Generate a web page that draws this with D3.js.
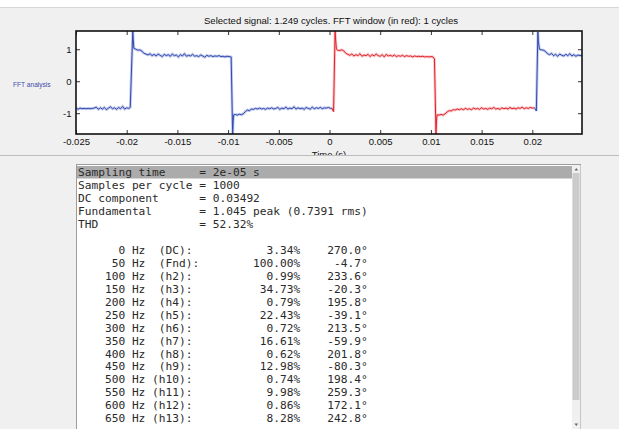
<!DOCTYPE html>
<html>
<head>
<meta charset="utf-8">
<script src="https://d3js.org/d3.v7.min.js"></script>
<style>
body { margin: 0; background: #fff; }
svg { display: block; }
.tick text { font-family: "Liberation Sans", Arial, sans-serif; font-size: 9.5px; fill: #111; }
.mono { font-family: "DejaVu Sans Mono", "Liberation Mono", monospace; font-size: 11.2px; fill: #2a2a2a; white-space: pre; }
</style>
</head>
<body>
<script>
// ---- data ----
var titleText = "Selected signal: 1.249 cycles. FFT window (in red): 1 cycles";
var xTicks = [-0.025, -0.02, -0.015, -0.01, -0.005, 0, 0.005, 0.01, 0.015, 0.02];
var yTicks = [-1, 0, 1];
var xLimits = [-0.025, 0.0249];
var yLimits = [-1.65, 1.57];

// signal before the FFT window (blue), [time s, value]
var blueStart = [
  [-0.0250,-0.83],[-0.0248,-0.88],[-0.0246,-0.84],[-0.0244,-0.86],[-0.0242,-0.85],[-0.0240,-0.86],
  [-0.0238,-0.85],[-0.0236,-0.86],[-0.0234,-0.85],[-0.0232,-0.84],[-0.0230,-0.81],[-0.0228,-0.88],
  [-0.0226,-0.83],[-0.0224,-0.87],[-0.0222,-0.82],[-0.0220,-0.89],[-0.0218,-0.84],[-0.0216,-0.80],
  [-0.0214,-0.86],[-0.0212,-0.83],[-0.0210,-0.88],[-0.0208,-0.82],[-0.0206,-0.86],[-0.0204,-0.79],
  [-0.0202,-0.87],[-0.0200,-0.83],[-0.0198,-0.85],[-0.01965,-0.82],
  [-0.0194,1.57],[-0.01935,1.30],[-0.0193,1.03],[-0.0191,1.00],[-0.0189,0.97],[-0.0187,0.98],
  [-0.0185,0.94],[-0.0183,0.87],[-0.0181,0.85],
  [-0.0179,0.82],[-0.0177,0.86],[-0.0175,0.80],[-0.0173,0.84],[-0.0171,0.79],[-0.0169,0.85],
  [-0.0167,0.81],[-0.0165,0.77],[-0.0163,0.84],[-0.0161,0.80],[-0.0159,0.83],[-0.0157,0.78],
  [-0.0155,0.85],[-0.0153,0.80],[-0.0151,0.82],[-0.0149,0.76],[-0.0147,0.83],[-0.0145,0.79],
  [-0.0143,0.86],[-0.0141,0.78],[-0.0139,0.81],[-0.0137,0.79],[-0.0135,0.84],[-0.0133,0.78],
  [-0.0131,0.80],[-0.0129,0.77],[-0.0127,0.82],[-0.0125,0.79],[-0.0123,0.75],[-0.0121,0.81],
  [-0.0119,0.78],[-0.0117,0.80],[-0.0115,0.77],[-0.0113,0.79],[-0.0111,0.78],[-0.0109,0.80],
  [-0.0107,0.77],[-0.0105,0.78],[-0.0103,0.76],[-0.0101,0.78],[-0.0099,0.77],[-0.0097,0.76],
  [-0.00955,-1.65],[-0.0095,-1.25],[-0.00945,-1.05],[-0.0093,-1.04],[-0.0091,-1.06],[-0.0089,-1.03],
  [-0.0087,-1.05],[-0.0085,-1.02],[-0.0083,-0.95],[-0.0081,-0.90],[-0.0079,-0.92],[-0.0077,-0.87],
  [-0.0075,-0.88],[-0.0073,-0.85],[-0.0071,-0.87],[-0.0069,-0.84],[-0.0067,-0.87],[-0.0065,-0.85],
  [-0.0063,-0.88],[-0.0061,-0.84],[-0.0059,-0.86],[-0.0057,-0.83],[-0.0055,-0.87],[-0.0053,-0.85],
  [-0.0051,-0.82],[-0.0049,-0.88],[-0.0047,-0.84],[-0.0045,-0.86],[-0.0043,-0.81],[-0.0041,-0.87],
  [-0.0039,-0.84],[-0.0037,-0.86],[-0.0035,-0.80],[-0.0033,-0.87],[-0.0031,-0.83],[-0.0029,-0.86],
  [-0.0027,-0.84],[-0.0025,-0.88],[-0.0023,-0.82],[-0.0021,-0.85],[-0.0019,-0.87],[-0.0017,-0.81],
  [-0.0015,-0.86],[-0.0013,-0.83],[-0.0011,-0.85],[-0.0009,-0.82],[-0.0007,-0.86],[-0.0005,-0.83],
  [-0.0003,-0.84],[-0.0001,-0.82],[0.0001,-0.85],[0.00023,-0.84]
];

// one cycle inside the FFT window (red)
var redWindow = [
  [0.00023,-0.84],[0.0004,-0.95],[0.00055,1.57],[0.0006,1.32],[0.00068,1.00],[0.0008,0.97],
  [0.0010,0.96],[0.0012,0.98],[0.0014,0.95],[0.0016,0.88],[0.0018,0.84],
  [0.0020,0.81],[0.0022,0.85],[0.0024,0.79],[0.0026,0.83],[0.0028,0.80],[0.0030,0.86],
  [0.0032,0.78],[0.0034,0.82],[0.0036,0.80],[0.0038,0.84],[0.0040,0.77],[0.0042,0.83],
  [0.0044,0.79],[0.0046,0.85],[0.0048,0.80],[0.0050,0.78],[0.0052,0.83],[0.0054,0.76],
  [0.0056,0.84],[0.0058,0.79],[0.0060,0.81],[0.0062,0.78],[0.0064,0.82],[0.0066,0.77],
  [0.0068,0.80],[0.0070,0.78],[0.0072,0.81],[0.0074,0.77],[0.0076,0.80],[0.0078,0.78],
  [0.0080,0.79],[0.0082,0.76],[0.0084,0.79],[0.0086,0.77],[0.0088,0.78],[0.0090,0.77],
  [0.0092,0.78],[0.0094,0.76],[0.0096,0.77],[0.0098,0.76],[0.0100,0.77],[0.0102,0.76],
  [0.01035,0.70],[0.0105,-1.65],[0.01055,-1.25],[0.0106,-1.05],[0.0108,-1.06],[0.0110,-1.04],
  [0.0112,-1.06],[0.0114,-1.02],[0.0116,-0.96],[0.0118,-0.92],[0.0120,-0.93],[0.0122,-0.89],
  [0.0124,-0.90],[0.0126,-0.87],[0.0128,-0.89],[0.0130,-0.86],[0.0132,-0.89],[0.0134,-0.85],
  [0.0136,-0.88],[0.0138,-0.86],[0.0140,-0.89],[0.0142,-0.84],[0.0144,-0.87],[0.0146,-0.85],
  [0.0148,-0.88],[0.0150,-0.83],[0.0152,-0.87],[0.0154,-0.85],[0.0156,-0.88],[0.0158,-0.84],
  [0.0160,-0.86],[0.0162,-0.82],[0.0164,-0.87],[0.0166,-0.85],[0.0168,-0.88],[0.0170,-0.83],
  [0.0172,-0.86],[0.0174,-0.84],[0.0176,-0.87],[0.0178,-0.82],[0.0180,-0.86],[0.0182,-0.84],
  [0.0184,-0.87],[0.0186,-0.83],[0.0188,-0.85],[0.0190,-0.81],[0.0192,-0.86],[0.0194,-0.83],
  [0.0196,-0.85],[0.0198,-0.82],[0.0200,-0.84],[0.0202,-0.83]
];

// signal after the FFT window (blue)
var blueEnd = [
  [0.0202,-0.83],[0.0203,-0.86],[0.0204,-0.93],[0.02055,1.54],[0.0206,1.25],[0.0207,1.00],
  [0.0209,0.98],[0.0211,0.97],[0.0213,0.93],[0.0215,0.86],[0.0217,0.83],[0.0219,0.87],
  [0.0221,0.80],[0.0223,0.84],[0.0225,0.78],[0.0227,0.85],[0.0229,0.81],[0.0231,0.79],
  [0.0233,0.84],[0.0235,0.80],[0.0237,0.86],[0.0239,0.79],[0.0241,0.83],[0.0243,0.78],
  [0.0245,0.82],[0.0247,0.80],[0.0249,0.81]
];

// FFT report
var headerLabels = ["Sampling time", "Samples per cycle", "DC component", "Fundamental", "THD"];
var headerValues = ["2e-05 s", "1000", "0.03492", "1.045 peak (0.7391 rms)", "52.32%"];
var harmonicFreqs = [0, 50, 100, 150, 200, 250, 300, 350, 400, 450, 500, 550, 600, 650];
var harmonicNames = ["DC", "Fnd", "h2", "h3", "h4", "h5", "h6", "h7", "h8", "h9", "h10", "h11", "h12", "h13"];
var harmonicMag = [3.34, 100.00, 0.99, 34.73, 0.79, 22.43, 0.72, 16.61, 0.62, 12.98, 0.74, 9.98, 0.86, 8.28];
var harmonicPhase = [270.0, -4.7, 233.6, -20.3, 195.8, -39.1, 213.5, -59.9, 201.8, -80.3, 198.4, 259.3, 172.1, 242.8];

// ---- layout ----
var W = 619, H = 429;
var plot = {left: 76, right: 582, top: 31, bottom: 134};

var svg = d3.select("body").append("svg")
    .attr("width", W)
    .attr("height", H);

svg.append("rect").attr("width", W).attr("height", H).attr("fill", "#fff");

// top panel
svg.append("rect")
    .attr("x", 0).attr("y", 7.5)
    .attr("width", W).attr("height", 148)
    .attr("fill", "#f0f0f0");
svg.append("line")
    .attr("x1", 0).attr("x2", W).attr("y1", 7.5).attr("y2", 7.5)
    .attr("stroke", "#d6d6d6");

svg.append("text")
    .attr("x", 331).attr("y", 24)
    .attr("text-anchor", "middle")
    .style("font-family", "Liberation Sans, Arial, sans-serif")
    .style("font-size", "9.6px")
    .attr("fill", "#111")
    .text(titleText);

svg.append("text")
    .attr("x", 13).attr("y", 86.5)
    .style("font-family", "Liberation Sans, Arial, sans-serif")
    .style("font-size", "6.6px")
    .attr("fill", "#3e4ca8")
    .text("FFT analysis");

var x = d3.scaleLinear().domain(xLimits).range([plot.left, plot.right]);
var y = d3.scaleLinear().domain(yLimits).range([plot.bottom, plot.top]);

svg.append("rect")
    .attr("x", plot.left).attr("y", plot.top)
    .attr("width", plot.right - plot.left).attr("height", plot.bottom - plot.top)
    .attr("fill", "#fff");

svg.append("clipPath").attr("id", "clip")
  .append("rect")
    .attr("x", plot.left).attr("y", plot.top)
    .attr("width", plot.right - plot.left).attr("height", plot.bottom - plot.top);

var line = d3.line()
    .x(function(d) { return x(d[0]); })
    .y(function(d) { return y(d[1]); });

var traces = [
  {data: blueStart, color: "#3349b2", halo: "#9aa6da"},
  {data: redWindow, color: "#e5202a", halo: "#f1a0a4"},
  {data: blueEnd, color: "#3349b2", halo: "#9aa6da"}
];

var g = svg.append("g").attr("clip-path", "url(#clip)");
traces.forEach(function(t) {
  g.append("path").datum(t.data)
      .attr("d", line)
      .attr("fill", "none")
      .attr("stroke", t.halo)
      .attr("stroke-width", 2.8)
      .attr("stroke-opacity", 0.6);
});
traces.forEach(function(t) {
  g.append("path").datum(t.data)
      .attr("d", line)
      .attr("fill", "none")
      .attr("stroke", t.color)
      .attr("stroke-width", 1)
      .attr("stroke-linejoin", "round");
});

// axes, ticks pointing inside
svg.append("g")
    .attr("transform", "translate(0," + plot.bottom + ")")
    .call(d3.axisBottom(x).tickValues(xTicks).tickSize(-4).tickSizeOuter(0).tickPadding(4.5)
      .tickFormat(function(d) { return String(+d.toFixed(3)); }));
svg.append("g")
    .attr("transform", "translate(0," + plot.top + ")")
    .call(d3.axisTop(x).tickValues(xTicks).tickSize(-4).tickSizeOuter(0).tickFormat(""));
svg.append("g")
    .attr("transform", "translate(" + plot.left + ",0)")
    .call(d3.axisLeft(y).tickValues(yTicks).tickSize(-4).tickSizeOuter(0).tickPadding(4.5)
      .tickFormat(function(d) { return String(d); }));
svg.append("g")
    .attr("transform", "translate(" + plot.right + ",0)")
    .call(d3.axisRight(y).tickValues(yTicks).tickSize(-4).tickSizeOuter(0).tickFormat(""));

svg.selectAll(".domain").attr("stroke", "none");
svg.selectAll(".tick line").attr("stroke", "#333");

svg.append("rect")
    .attr("x", plot.left).attr("y", plot.top)
    .attr("width", plot.right - plot.left).attr("height", plot.bottom - plot.top)
    .attr("fill", "none")
    .attr("stroke", "#111")
    .attr("stroke-width", 1.6);

svg.append("text")
    .attr("x", (plot.left + plot.right) / 2).attr("y", 158)
    .attr("text-anchor", "middle")
    .style("font-family", "Liberation Sans, Arial, sans-serif")
    .style("font-size", "9.5px")
    .attr("fill", "#111")
    .text("Time (s)");

// bottom panel covers the lower part of the axis label
svg.append("rect")
    .attr("x", 0).attr("y", 155)
    .attr("width", W).attr("height", H - 155)
    .attr("fill", "#f0f0f0");
svg.append("line")
    .attr("x1", 0).attr("x2", W).attr("y1", 155.5).attr("y2", 155.5)
    .attr("stroke", "#bcbcbc");

var box = {left: 77, top: 165, right: 581};
svg.append("rect")
    .attr("x", box.left - 0.5).attr("y", box.top - 0.5)
    .attr("width", box.right - box.left).attr("height", H - box.top + 10)
    .attr("fill", "#fff")
    .attr("stroke", "#9c9c9c");

// selected first line
svg.append("rect")
    .attr("x", box.left).attr("y", 166)
    .attr("width", 572 - box.left).attr("height", 12.5)
    .attr("fill", "#ababab");

// scrollbar
svg.append("rect")
    .attr("x", 572).attr("y", box.top)
    .attr("width", 8.5).attr("height", H - box.top)
    .attr("fill", "#f0f0f0");
svg.append("rect")
    .attr("x", 572.5).attr("y", 173)
    .attr("width", 7).attr("height", 227)
    .attr("fill", "#cbcbcb");
svg.append("path")
    .attr("d", "M574.5,170.5 L576.3,168 L578.1,170.5 Z")
    .attr("fill", "#666");
svg.append("path")
    .attr("d", "M574.5,423.5 L576.3,426 L578.1,423.5 Z")
    .attr("fill", "#666");

// report text
var lines = headerLabels.map(function(l, i) {
  return l.padEnd(18) + "= " + headerValues[i];
});
lines.push("");
harmonicFreqs.forEach(function(f, i) {
  var name = "(" + harmonicNames[i] + "):";
  var left = String(f).padStart(7) + " Hz" + (/^h\d\d$/.test(harmonicNames[i]) ? " " : "  ") + name;
  var pct = (harmonicMag[i].toFixed(2) + "%").padStart(33 - left.length);
  var ph = (harmonicPhase[i].toFixed(1) + "°").padStart(10);
  lines.push(left + pct + ph);
});

svg.append("g").selectAll("text")
    .data(lines)
  .enter().append("text")
    .attr("class", "mono")
    .attr("xml:space", "preserve")
    .attr("x", 78)
    .attr("y", function(d, i) { return 176.2 + i * 12.95; })
    .text(function(d) { return d; });
</script>
</body>
</html>
